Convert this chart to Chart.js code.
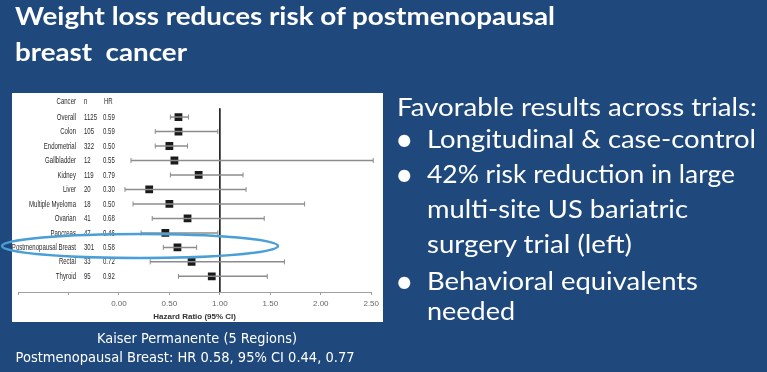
<!DOCTYPE html>
<html>
<head>
<meta charset="utf-8">
<script src="https://cdn.jsdelivr.net/npm/chart.js@4.4.1/dist/chart.umd.min.js"></script>
<style>
    html, body { margin: 0; padding: 0; background: #1f497d; }
    #slide { position: relative; width: 767px; height: 372px; overflow: hidden; background: #1f497d; }
    #panel { position: absolute; left: 12px; top: 93px; width: 371px; height: 229px; background: #fff; }
    #overlay { position: absolute; left: 0; top: 0; pointer-events: none; }
    .title { font-family: Lato, sans-serif; font-weight: bold; fill: #fff; white-space: pre; font-size: 25px; }
    .body { font-family: Lato, sans-serif; fill: #fff; font-size: 25px; }
    .bullet { font-family: Lato, sans-serif; fill: #fff; font-size: 32px; }
    .caption { font-family: 'DejaVu Sans', sans-serif; fill: #fff; font-size: 13.5px; }
</style>
</head>
<body>
<div id="slide">
    <div id="panel"><canvas id="forest"></canvas></div>
    <svg id="overlay" width="767" height="372">
        <text class="title" x="15" y="25" textLength="540" lengthAdjust="spacingAndGlyphs">Weight loss reduces risk of postmenopausal</text>
        <text class="title" x="15" y="61" textLength="172" lengthAdjust="spacingAndGlyphs">breast  cancer</text>

        <text class="body" x="397" y="116" textLength="360" lengthAdjust="spacingAndGlyphs">Favorable results across trials:</text>
        <text class="bullet" x="395" y="151">•</text>
        <text class="body" x="427" y="148" textLength="329" lengthAdjust="spacingAndGlyphs">Longitudinal &amp; case-control</text>
        <text class="bullet" x="395" y="186">•</text>
        <text class="body" x="427" y="183" textLength="308" lengthAdjust="spacingAndGlyphs">42% risk reduction in large</text>
        <text class="body" x="427" y="218" textLength="261" lengthAdjust="spacingAndGlyphs">multi-site US bariatric</text>
        <text class="body" x="427" y="253" textLength="205" lengthAdjust="spacingAndGlyphs">surgery trial (left)</text>
        <text class="bullet" x="395" y="293">•</text>
        <text class="body" x="427" y="290" textLength="271" lengthAdjust="spacingAndGlyphs">Behavioral equivalents</text>
        <text class="body" x="427" y="320" textLength="88" lengthAdjust="spacingAndGlyphs">needed</text>

        <text class="caption" x="197" y="343" text-anchor="middle" textLength="200" lengthAdjust="spacingAndGlyphs">Kaiser Permanente (5 Regions)</text>
        <text class="caption" x="185" y="362" text-anchor="middle" textLength="339" lengthAdjust="spacingAndGlyphs">Postmenopausal Breast: HR 0.58, 95% CI 0.44, 0.77</text>

        <ellipse cx="140" cy="246" rx="138" ry="12" fill="none" stroke="#4a9fd6" stroke-width="2.5"/>
    </svg>
</div>
<script>
const cancers = ['Overall', 'Colon', 'Endometrial', 'Gallbladder', 'Kidney', 'Liver', 'Multiple Myeloma',
    'Ovarian', 'Pancreas', 'Postmenopausal Breast', 'Rectal', 'Thyroid']
const counts = [1125, 105, 322, 12, 119, 20, 18, 41, 47, 301, 33, 95]
const hazardRatios = [0.59, 0.59, 0.50, 0.55, 0.79, 0.30, 0.50, 0.68, 0.46, 0.58, 0.72, 0.92]
const ciLower = [0.51, 0.36, 0.36, 0.12, 0.51, 0.06, 0.14, 0.33, 0.22, 0.44, 0.31, 0.59]
const ciUpper = [0.69, 0.98, 0.68, 2.52, 1.23, 1.26, 1.84, 1.44, 0.98, 0.77, 1.64, 1.47]
const xTickValues = [0, 0.5, 1, 1.5, 2, 2.5]

const tableFont = "9.5px 'Liberation Sans', Arial, sans-serif"

// the table on the slide uses a condensed face, so squeeze a normal one
const drawNarrow = (ctx, text, x, y, align, squeeze) => {
    ctx.save()
    ctx.translate(x, y)
    ctx.scale(squeeze, 1)
    ctx.textAlign = align
    ctx.fillText(text, 0, 0)
    ctx.restore()
}

const tablePlugin = {
    id: 'table',
    afterDatasetsDraw(chart) {
        const ctx = chart.ctx
        const y = chart.scales.y
        ctx.save()
        ctx.font = tableFont
        ctx.fillStyle = '#2a2a2a'
        ctx.textBaseline = 'middle'
        const squeeze = 47 / ctx.measureText('Multiple Myeloma').width
        const header = y.getPixelForValue(-1.07)
        drawNarrow(ctx, 'Cancer', 64, header, 'right', squeeze)
        drawNarrow(ctx, 'n', 72, header, 'left', squeeze)
        drawNarrow(ctx, 'HR', 92, header, 'left', squeeze)
        cancers.forEach((name, i) => {
            const py = y.getPixelForValue(i)
            drawNarrow(ctx, name, 64, py, 'right', squeeze)
            drawNarrow(ctx, String(counts[i]), 72, py, 'left', squeeze)
            drawNarrow(ctx, hazardRatios[i].toFixed(2), 91, py, 'left', squeeze)
        })
        ctx.restore()
    }
}

const ciSets = cancers.map((name, i) => ({
    type: 'line',
    label: name + ' CI',
    data: [{ x: ciLower[i], y: i }, { x: ciUpper[i], y: i }],
    borderColor: '#8c8c8c',
    borderWidth: 1.5,
    pointStyle: 'line',
    rotation: 90,
    pointRadius: 2.5,
    pointBorderColor: '#8c8c8c',
    pointBorderWidth: 1,
    clip: false
}))

const ctx = document.getElementById('forest').getContext('2d')
const forestChart = new Chart(ctx, {
    type: 'scatter',
    data: {
        datasets: [
            ...ciSets,
            {
                type: 'line',
                label: 'no effect',
                data: [{ x: 1, y: -0.6 }, { x: 1, y: 12.08 }],
                borderColor: '#222',
                borderWidth: 1,
                pointRadius: 0
            },
            {
                label: 'HR',
                data: hazardRatios.map((v, i) => ({ x: v, y: i })),
                pointStyle: 'rect',
                pointRadius: 5.5,
                backgroundColor: '#1a1a1a',
                borderColor: '#1a1a1a',
                borderWidth: 0
            }
        ]
    },
    options: {
        responsive: true,
        maintainAspectRatio: false,
        animation: false,
        layout: { padding: { left: 6, right: 9, top: 0, bottom: 0 } },
        plugins: { legend: { display: false }, tooltip: { enabled: false } },
        scales: {
            x: {
                type: 'linear',
                min: -1,
                max: 2.5,
                afterBuildTicks: s => { s.ticks = [-1, -0.5, ...xTickValues].map(v => ({ value: v })) },
                afterFit: s => { s.height = 30 },
                ticks: {
                    callback: v => v < 0 ? '' : v.toFixed(2),
                    font: { family: "'Liberation Sans', sans-serif", size: 8 },
                    color: '#666',
                    padding: 4,
                    maxRotation: 0
                },
                grid: { drawOnChartArea: false, color: '#a0a0a0', tickLength: 3 },
                border: { color: '#a0a0a0', width: 1 },
                title: {
                    display: true,
                    text: 'Hazard Ratio (95% CI)',
                    font: { family: "'Liberation Sans', sans-serif", size: 8, weight: 'bold' },
                    color: '#333',
                    padding: { top: 4, bottom: 0 }
                }
            },
            y: {
                type: 'linear',
                display: false,
                reverse: true,
                min: -1.28,
                max: 12.08
            }
        }
    },
    plugins: [tablePlugin]
})
</script>
</body>
</html>
